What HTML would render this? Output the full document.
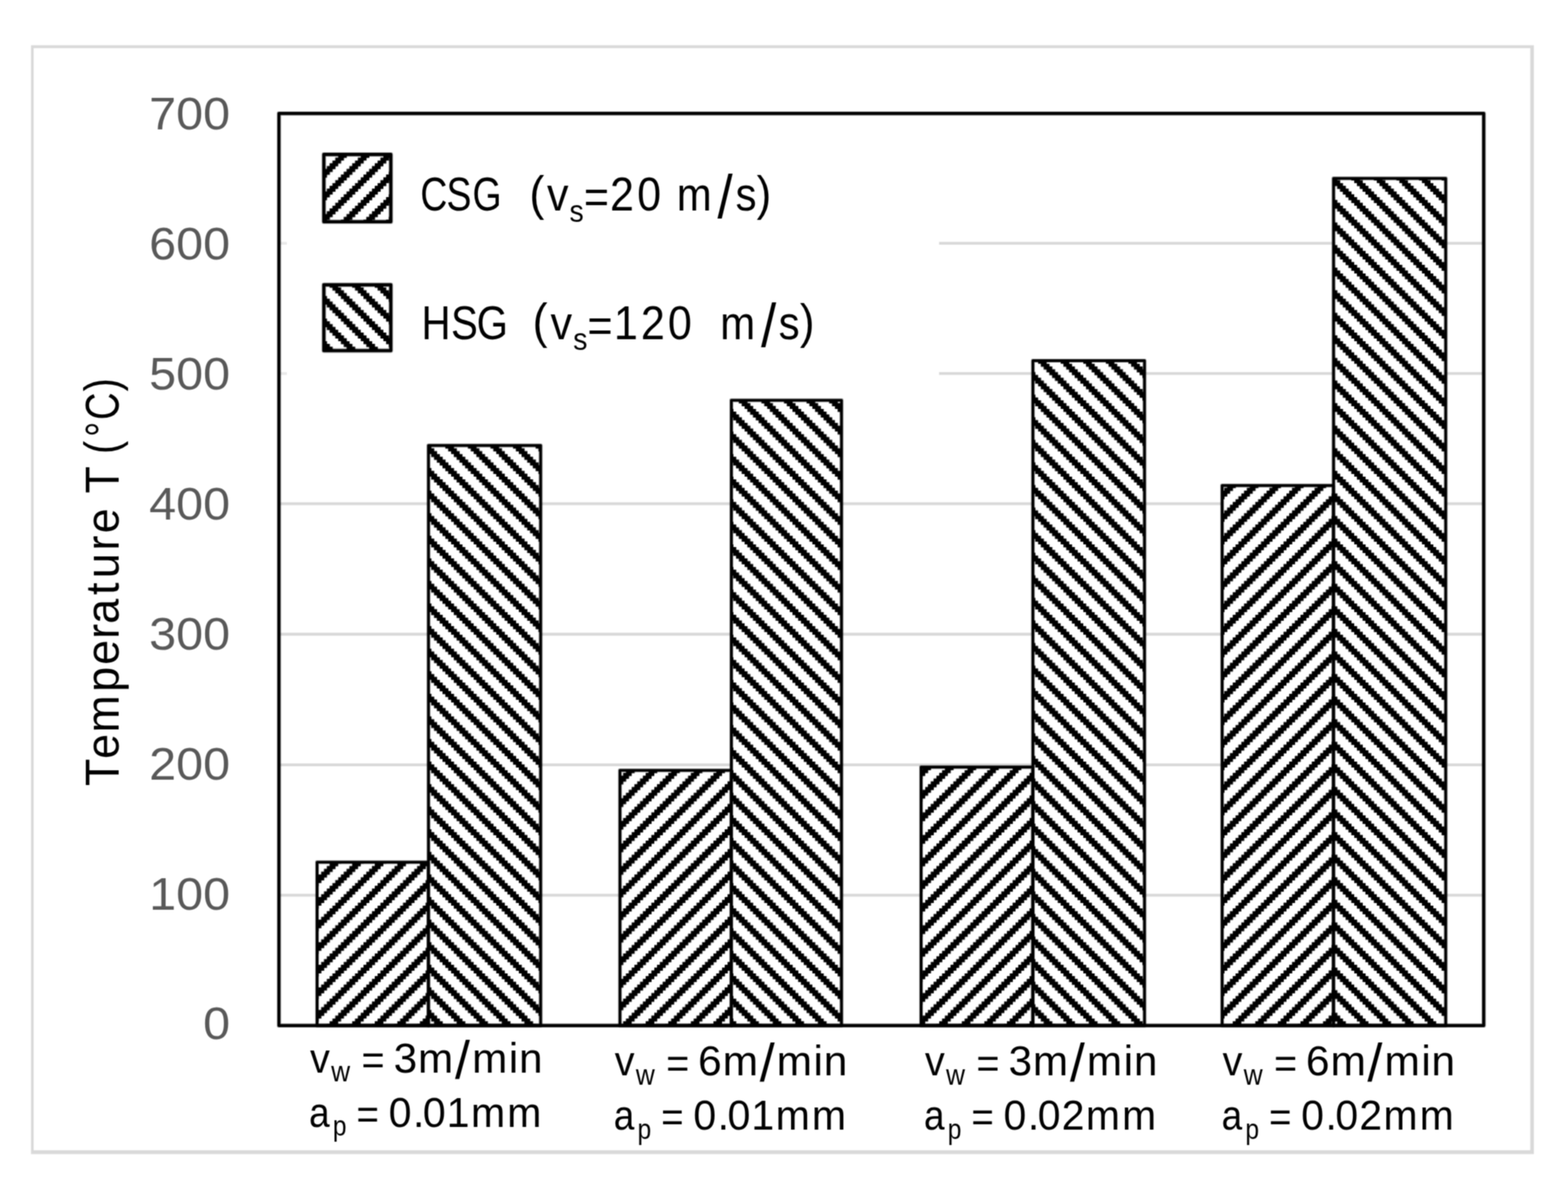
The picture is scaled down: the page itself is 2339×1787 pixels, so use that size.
<!DOCTYPE html>
<html lang="en">
<head>
<meta charset="utf-8">
<title>Grinding temperature: CSG vs HSG</title>
<style>
html,body{margin:0;padding:0;background:#fff;}
body{width:2339px;height:1787px;overflow:hidden;}
svg{display:block;}
text{white-space:pre;}
</style>
</head>
<body>
<svg xmlns="http://www.w3.org/2000/svg" width="2339" height="1787" viewBox="0 0 2339 1787" font-family="'Liberation Sans', 'DejaVu Sans', sans-serif">
<defs>
<pattern id="hu" patternUnits="userSpaceOnUse" x="-0.7" y="3.74" width="33.68" height="33.68">
<rect x="-1" y="-1" width="35.68" height="35.68" fill="#fff"/>
<path d="M-4.210 -4.210H4.378V4.378H-4.210ZM25.092 -4.210H37.890V4.378H25.092ZM20.882 4.042H37.890V8.588H20.882ZM16.672 8.252H29.638V12.798H16.672ZM12.462 12.462H25.428V17.008H12.462ZM8.252 16.672H21.218V21.218H8.252ZM4.042 20.882H17.008V25.428H4.042ZM-4.210 25.092H12.798V29.638H-4.210ZM-4.210 29.302H8.588V37.890H-4.210ZM29.302 29.302H37.890V37.890H29.302Z" fill="#000"/>
</pattern>
<pattern id="hd" patternUnits="userSpaceOnUse" x="-0.7" y="3.74" width="33.68" height="33.68">
<rect x="-1" y="-1" width="35.68" height="35.68" fill="#fff"/>
<path d="M4.042 -4.210H17.008V4.378H4.042ZM8.252 4.042H21.218V8.588H8.252ZM12.462 8.252H25.428V12.798H12.462ZM16.672 12.462H29.638V17.008H16.672ZM20.882 16.672H37.890V21.218H20.882ZM-4.210 20.882H4.378V25.428H-4.210ZM25.092 20.882H37.890V25.428H25.092ZM-4.210 25.092H8.588V29.638H-4.210ZM29.302 25.092H37.890V29.638H29.302ZM-4.210 29.302H12.798V37.890H-4.210Z" fill="#000"/>
</pattern>
</defs>
<rect width="2339" height="1787" fill="#fff"/>
<filter id="soft" filterUnits="userSpaceOnUse" x="0" y="0" width="2339" height="1787" color-interpolation-filters="sRGB"><feConvolveMatrix order="3" kernelMatrix="1 2 1 2 4 2 1 2 1" edgeMode="duplicate" preserveAlpha="true"/></filter>
<g filter="url(#soft)">
<rect width="2339" height="1787" fill="#fff"/>
<path fill="#d9d9d9" fill-rule="evenodd" d="M46.3 67.6H2288.1V1721.4H46.3Z M50.199999999999996 71.8V1715.8000000000002H2282.7V71.8Z"/>
<g stroke="#d9d9d9" stroke-width="4.3" fill="none">
<path d="M1400.8 362.90H2213.3"/>
<path d="M416.1 362.90H428.0" stroke-opacity="0.55"/>
<path d="M1400.8 557.20H2213.3"/>
<path d="M416.1 557.20H428.0" stroke-opacity="0.55"/>
<path d="M416.1 751.40H2213.3"/>
<path d="M416.1 946.00H2213.3"/>
<path d="M416.1 1140.90H2213.3"/>
<path d="M416.1 1335.30H2213.3"/>
</g>
<g stroke-linejoin="round">
<rect x="473.0" y="1286.1" width="166.20" height="243.70" fill="url(#hu)" stroke="#000" stroke-opacity="0.35" stroke-width="6.1"/>
<rect x="639.2" y="664.5" width="167.30" height="865.30" fill="url(#hd)" stroke="#000" stroke-opacity="0.35" stroke-width="6.1"/>
<rect x="473.0" y="1286.1" width="166.20" height="243.70" fill="none" stroke="#000" stroke-width="3.9"/>
<rect x="639.2" y="664.5" width="167.30" height="865.30" fill="none" stroke="#000" stroke-width="3.9"/>
</g>
<g stroke-linejoin="round">
<rect x="924.8" y="1149.1" width="166.20" height="380.70" fill="url(#hu)" stroke="#000" stroke-opacity="0.35" stroke-width="6.1"/>
<rect x="1091.0" y="597.1" width="164.30" height="932.70" fill="url(#hd)" stroke="#000" stroke-opacity="0.35" stroke-width="6.1"/>
<rect x="924.8" y="1149.1" width="166.20" height="380.70" fill="none" stroke="#000" stroke-width="3.9"/>
<rect x="1091.0" y="597.1" width="164.30" height="932.70" fill="none" stroke="#000" stroke-width="3.9"/>
</g>
<g stroke-linejoin="round">
<rect x="1374.0" y="1144.2" width="166.80" height="385.60" fill="url(#hu)" stroke="#000" stroke-opacity="0.35" stroke-width="6.1"/>
<rect x="1540.8" y="538.0" width="166.50" height="991.80" fill="url(#hd)" stroke="#000" stroke-opacity="0.35" stroke-width="6.1"/>
<rect x="1374.0" y="1144.2" width="166.80" height="385.60" fill="none" stroke="#000" stroke-width="3.9"/>
<rect x="1540.8" y="538.0" width="166.50" height="991.80" fill="none" stroke="#000" stroke-width="3.9"/>
</g>
<g stroke-linejoin="round">
<rect x="1823.1" y="724.3" width="166.20" height="805.50" fill="url(#hu)" stroke="#000" stroke-opacity="0.35" stroke-width="6.1"/>
<rect x="1989.3" y="266.1" width="167.30" height="1263.70" fill="url(#hd)" stroke="#000" stroke-opacity="0.35" stroke-width="6.1"/>
<rect x="1823.1" y="724.3" width="166.20" height="805.50" fill="none" stroke="#000" stroke-width="3.9"/>
<rect x="1989.3" y="266.1" width="167.30" height="1263.70" fill="none" stroke="#000" stroke-width="3.9"/>
</g>
<rect x="416.1" y="169.2" width="1797.20" height="1360.60" fill="none" stroke="#000" stroke-opacity="0.35" stroke-width="6.6000000000000005" stroke-linejoin="round"/>
<rect x="416.1" y="169.2" width="1797.20" height="1360.60" fill="none" stroke="#000" stroke-width="4.4" stroke-linejoin="round"/>
<rect x="483.1" y="230.4" width="99.90" height="100.40" fill="url(#hu)" stroke="#000" stroke-opacity="0.35" stroke-width="6.8" stroke-linejoin="round"/>
<rect x="483.1" y="230.4" width="99.90" height="100.40" fill="none" stroke="#000" stroke-width="4.6" stroke-linejoin="round"/>
<rect x="483.1" y="424.9" width="99.90" height="98.10" fill="url(#hd)" stroke="#000" stroke-opacity="0.35" stroke-width="6.8" stroke-linejoin="round"/>
<rect x="483.1" y="424.9" width="99.90" height="98.10" fill="none" stroke="#000" stroke-width="4.6" stroke-linejoin="round"/>
<g>
<text transform="matrix(1.0438 0 0 1 222.61 193.11)" font-size="69.3" fill="#595959">700</text>
<text transform="matrix(1.0438 0 0 1 222.61 387.01)" font-size="69.3" fill="#595959">600</text>
<text transform="matrix(1.0438 0 0 1 222.61 580.91)" font-size="69.3" fill="#595959">500</text>
<text transform="matrix(1.0438 0 0 1 222.61 774.81)" font-size="69.3" fill="#595959">400</text>
<text transform="matrix(1.0438 0 0 1 222.61 968.71)" font-size="69.3" fill="#595959">300</text>
<text transform="matrix(1.0438 0 0 1 222.61 1162.61)" font-size="69.3" fill="#595959">200</text>
<text transform="matrix(1.0438 0 0 1 222.61 1356.51)" font-size="69.3" fill="#595959">100</text>
<text transform="matrix(1.0438 0 0 1 303.07 1550.41)" font-size="69.3" fill="#595959">0</text>
</g>
<g>
<text transform="matrix(0 -0.9567 1 0 177.40 1171.00)" font-size="70" fill="#000"><tspan x="-1.52" y="0.00">T</tspan><tspan x="40.75" y="0.00">e</tspan><tspan x="81.89" y="0.00">m</tspan><tspan x="145.18" y="0.00">p</tspan><tspan x="187.25" y="0.00">e</tspan><tspan x="227.89" y="0.00">r</tspan><tspan x="251.51" y="0.00">a</tspan><tspan x="296.42" y="0.00">t</tspan><tspan x="322.37" y="0.00">u</tspan><tspan x="365.65" y="0.00">r</tspan><tspan x="392.38" y="0.00">e</tspan></text>
<text transform="matrix(0 -0.9489 1 0 177.40 1171.00)" font-size="70" fill="#000"><tspan x="458.40" y="0.00">T</tspan></text>
<text transform="matrix(0 -0.8135 1 0 177.40 1171.00)" font-size="70" fill="#000"><tspan x="606.93" y="-1.00" font-size="72.8">(</tspan><tspan x="638.44" y="0.00">°</tspan><tspan x="669.43" y="0.00">C</tspan><tspan x="721.77" y="-1.00" font-size="72.8">)</tspan></text>
</g>
<g>
<text transform="matrix(0.7972 0 0 1 0 314.30)" font-size="70" fill="#000"><tspan x="786.61" y="0.00">C</tspan><tspan x="835.32" y="0.00">S</tspan><tspan x="883.97" y="0.00">G</tspan></text>
<text transform="matrix(0.9157 0 0 1 0 314.30)" font-size="70" fill="#000"><tspan x="862.44" y="-1.60" font-size="72.8">(</tspan><tspan x="891.18" y="0.00">v</tspan><tspan x="927.70" y="16.70" font-size="46.4">s</tspan><tspan x="951.08" y="3.80">=</tspan><tspan x="993.67" y="0.00">2</tspan><tspan x="1038.11" y="0.00">0</tspan></text>
<text transform="matrix(0.8936 0 0 1 0 314.30)" font-size="70" fill="#000"><tspan x="1129.82" y="0.00">m</tspan><tspan x="1197.64" y="11.00" font-size="91">/</tspan><tspan x="1227.89" y="0.00">s</tspan><tspan x="1263.03" y="-1.60" font-size="72.8">)</tspan></text>
<text transform="matrix(0.8575 0 0 1 0 505.70)" font-size="70" fill="#000"><tspan x="733.24" y="0.00">H</tspan><tspan x="784.52" y="0.00">S</tspan><tspan x="829.11" y="0.00">G</tspan></text>
<text transform="matrix(0.9183 0 0 1 0 505.70)" font-size="70" fill="#000"><tspan x="865.27" y="-1.60" font-size="72.8">(</tspan><tspan x="894.19" y="0.00">v</tspan><tspan x="930.94" y="16.70" font-size="46.4">s</tspan><tspan x="954.23" y="3.80">=</tspan><tspan x="997.30" y="0.00">1</tspan><tspan x="1041.02" y="0.00">2</tspan><tspan x="1085.01" y="0.00">0</tspan></text>
<text transform="matrix(0.8956 0 0 1 0 505.70)" font-size="70" fill="#000"><tspan x="1199.59" y="0.00">m</tspan><tspan x="1267.64" y="11.00" font-size="91">/</tspan><tspan x="1296.98" y="0.00">s</tspan><tspan x="1332.34" y="-1.60" font-size="72.8">)</tspan></text>
</g>
<g>
<text transform="matrix(0.9320 0 0 1 0 1599.80)" font-size="63.4" fill="#000"><tspan x="496.35" y="0.00">v</tspan><tspan x="530.10" y="13.50" font-size="42">w</tspan></text>
<text transform="matrix(0.9306 0 0 1 0 1599.80)" font-size="63.4" fill="#000"><tspan x="579.45" y="3.40">=</tspan></text>
<text transform="matrix(0.9940 0 0 1 0 1599.80)" font-size="63.4" fill="#000"><tspan x="590.89" y="0.00">3</tspan><tspan x="627.36" y="0.00">m</tspan><tspan x="682.82" y="9.00" font-size="80.518">/</tspan><tspan x="708.39" y="0.00">m</tspan><tspan x="763.61" y="0.00">i</tspan><tspan x="778.92" y="0.00">n</tspan></text>
<text transform="matrix(0.8727 0 0 1 0 1680.60)" font-size="63.4" fill="#000"><tspan x="528.13" y="0.00">a</tspan><tspan x="568.96" y="13.50" font-size="42">p</tspan></text>
<text transform="matrix(0.9054 0 0 1 0 1680.60)" font-size="63.4" fill="#000"><tspan x="587.40" y="3.40">=</tspan></text>
<text transform="matrix(0.9685 0 0 1 0 1680.60)" font-size="63.4" fill="#000"><tspan x="598.72" y="0.00">0</tspan><tspan x="636.06" y="0.00">.</tspan><tspan x="651.38" y="0.00">0</tspan><tspan x="687.80" y="0.00">1</tspan><tspan x="725.28" y="0.00">m</tspan><tspan x="781.14" y="0.00">m</tspan></text>
<text transform="matrix(0.9320 0 0 1 0 1604.20)" font-size="63.4" fill="#000"><tspan x="984.03" y="0.00">v</tspan><tspan x="1017.78" y="13.50" font-size="42">w</tspan></text>
<text transform="matrix(0.9306 0 0 1 0 1604.20)" font-size="63.4" fill="#000"><tspan x="1067.84" y="3.40">=</tspan></text>
<text transform="matrix(1.0004 0 0 1 0 1604.20)" font-size="63.4" fill="#000"><tspan x="1040.84" y="0.00">6</tspan><tspan x="1077.51" y="0.00">m</tspan><tspan x="1132.71" y="9.00" font-size="80.518">/</tspan><tspan x="1158.02" y="0.00">m</tspan><tspan x="1213.02" y="0.00">i</tspan><tspan x="1228.16" y="0.00">n</tspan></text>
<text transform="matrix(0.8727 0 0 1 0 1685.00)" font-size="63.4" fill="#000"><tspan x="1048.95" y="0.00">a</tspan><tspan x="1089.78" y="13.50" font-size="42">p</tspan></text>
<text transform="matrix(0.9054 0 0 1 0 1685.00)" font-size="63.4" fill="#000"><tspan x="1089.41" y="3.40">=</tspan></text>
<text transform="matrix(0.9685 0 0 1 0 1685.00)" font-size="63.4" fill="#000"><tspan x="1068.02" y="0.00">0</tspan><tspan x="1105.36" y="0.00">.</tspan><tspan x="1120.68" y="0.00">0</tspan><tspan x="1157.10" y="0.00">1</tspan><tspan x="1194.58" y="0.00">m</tspan><tspan x="1250.44" y="0.00">m</tspan></text>
<text transform="matrix(0.9320 0 0 1 0 1604.20)" font-size="63.4" fill="#000"><tspan x="1480.51" y="0.00">v</tspan><tspan x="1514.26" y="13.50" font-size="42">w</tspan></text>
<text transform="matrix(0.9306 0 0 1 0 1604.20)" font-size="63.4" fill="#000"><tspan x="1565.05" y="3.40">=</tspan></text>
<text transform="matrix(0.9940 0 0 1 0 1604.20)" font-size="63.4" fill="#000"><tspan x="1513.60" y="0.00">3</tspan><tspan x="1550.06" y="0.00">m</tspan><tspan x="1605.53" y="9.00" font-size="80.518">/</tspan><tspan x="1631.10" y="0.00">m</tspan><tspan x="1686.32" y="0.00">i</tspan><tspan x="1701.63" y="0.00">n</tspan></text>
<text transform="matrix(0.8727 0 0 1 0 1685.00)" font-size="63.4" fill="#000"><tspan x="1579.17" y="0.00">a</tspan><tspan x="1620.00" y="13.50" font-size="42">p</tspan></text>
<text transform="matrix(0.9054 0 0 1 0 1685.00)" font-size="63.4" fill="#000"><tspan x="1600.47" y="3.40">=</tspan></text>
<text transform="matrix(0.9634 0 0 1 0 1685.00)" font-size="63.4" fill="#000"><tspan x="1553.94" y="0.00">0</tspan><tspan x="1591.43" y="0.00">.</tspan><tspan x="1606.87" y="0.00">0</tspan><tspan x="1643.98" y="0.00">2</tspan><tspan x="1681.20" y="0.00">m</tspan><tspan x="1737.36" y="0.00">m</tspan></text>
<text transform="matrix(0.9320 0 0 1 0 1604.20)" font-size="63.4" fill="#000"><tspan x="1956.92" y="0.00">v</tspan><tspan x="1990.67" y="13.50" font-size="42">w</tspan></text>
<text transform="matrix(0.9306 0 0 1 0 1604.20)" font-size="63.4" fill="#000"><tspan x="2042.16" y="3.40">=</tspan></text>
<text transform="matrix(1.0004 0 0 1 0 1604.20)" font-size="63.4" fill="#000"><tspan x="1947.17" y="0.00">6</tspan><tspan x="1983.84" y="0.00">m</tspan><tspan x="2039.05" y="9.00" font-size="80.518">/</tspan><tspan x="2064.36" y="0.00">m</tspan><tspan x="2119.36" y="0.00">i</tspan><tspan x="2134.50" y="0.00">n</tspan></text>
<text transform="matrix(0.8727 0 0 1 0 1685.00)" font-size="63.4" fill="#000"><tspan x="2087.96" y="0.00">a</tspan><tspan x="2128.79" y="13.50" font-size="42">p</tspan></text>
<text transform="matrix(0.9054 0 0 1 0 1685.00)" font-size="63.4" fill="#000"><tspan x="2090.88" y="3.40">=</tspan></text>
<text transform="matrix(0.9634 0 0 1 0 1685.00)" font-size="63.4" fill="#000"><tspan x="2014.79" y="0.00">0</tspan><tspan x="2052.28" y="0.00">.</tspan><tspan x="2067.72" y="0.00">0</tspan><tspan x="2104.83" y="0.00">2</tspan><tspan x="2142.05" y="0.00">m</tspan><tspan x="2198.21" y="0.00">m</tspan></text>
</g>
</svg>
</body>
</html>
